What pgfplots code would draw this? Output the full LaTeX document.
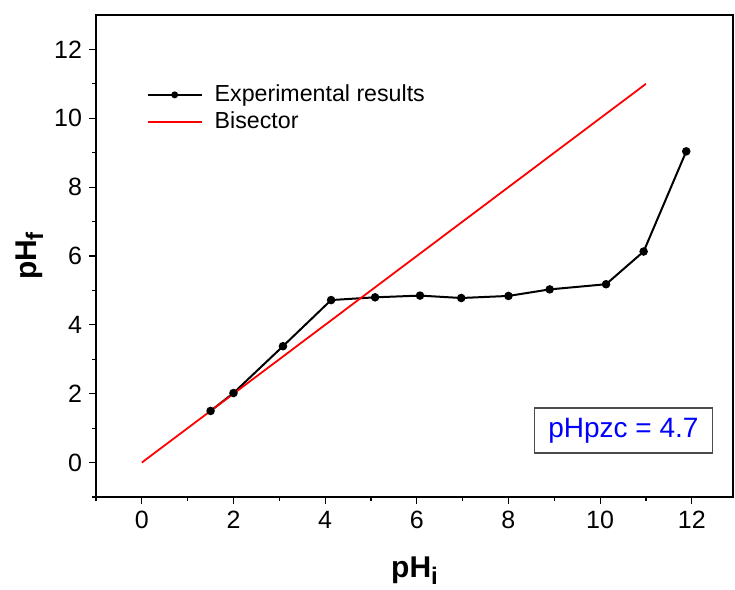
\documentclass[border=0pt]{standalone}
\usepackage{fontspec}
\setmainfont{Liberation Sans}
\usepackage{pgfplots}
\pgfplotsset{compat=1.18}
\pgfplotsset{
 legA/.style={legend image code/.code={\draw[black, line width=1pt] (0pt,0pt) -- (27pt,0pt);
   \fill[black] (13.5pt,0pt) circle (1.2pt); \path (31pt,0pt);}},
 legB/.style={legend image code/.code={\draw[red, line width=0.9pt] (0pt,0pt) -- (27pt,0pt); \path (31pt,0pt);}},
}
\begin{document}
\begin{tikzpicture}
\begin{axis}[
 scale only axis, width=318.5pt, height=241pt,
 xmin=-1, xmax=12.9, ymin=-1, ymax=13,
 xtick={0,2,...,12}, ytick={0,2,...,12},
 minor xtick={-1,1,3,...,11}, minor ytick={-1,1,3,...,11},
 tick align=outside, xtick pos=bottom, ytick pos=left,
 major tick length=3.5pt, minor tick length=2pt,
 every tick/.style={black, line width=0.6pt},
 axis line style={line width=0.6pt},
 /pgf/number format/assume math mode=true,
 ticklabel style={font=\fontsize{12.5}{14}\selectfont},
 xlabel={\textbf{pH\raisebox{-0.4ex}{\fontsize{12}{13}\selectfont i}}},
 ylabel={\textbf{pH\raisebox{-0.4ex}{\fontsize{12}{13}\selectfont f}}},
 label style={font=\bfseries\fontsize{15}{17}\selectfont},
 xlabel style={at={(axis description cs:0.5,-0.153)}, anchor=center},
 ylabel style={at={(axis description cs:-0.104,0.5)}, anchor=center},
 clip=false,
 legend style={draw=none, fill=none, at={(axis description cs:0.079,0.864)}, anchor=north west,
   font=\fontsize{11.6}{13}\selectfont, inner sep=0pt, row sep=-0.5pt,
   /tikz/every even column/.style={column sep=7pt}},
 legend cell align=left,
]
\addplot[black, line width=1pt, mark=*, mark size=1.6pt, legA]
 coordinates {(1.5,1.5)(2,2.02)(3.08,3.38)(4.13,4.72)(5.09,4.80)(6.07,4.85)(6.97,4.78)(8.0,4.84)(8.9,5.03)(10.13,5.18)(10.95,6.13)(11.88,9.04)};
\addlegendentry{Experimental results}
\addplot[red, line width=0.9pt, mark=none, legB]
 coordinates {(0,0)(11,11)};
\addlegendentry{Bisector}
\node[draw=black!70, line width=0.6pt, text=blue, font=\fontsize{14}{16}\selectfont,
  minimum width=89pt, minimum height=22.5pt, inner sep=0pt] at (axis cs:10.51,0.93) {pHpzc = 4.7};
\coordinate (sw) at (rel axis cs:0,0);
\coordinate (ne) at (rel axis cs:1,1);
\end{axis}
\pgfresetboundingbox
\path ([shift={(-48pt,-46.5pt)}]sw) rectangle ([shift={(1pt,7.5pt)}]ne);
\end{tikzpicture}
\end{document}
